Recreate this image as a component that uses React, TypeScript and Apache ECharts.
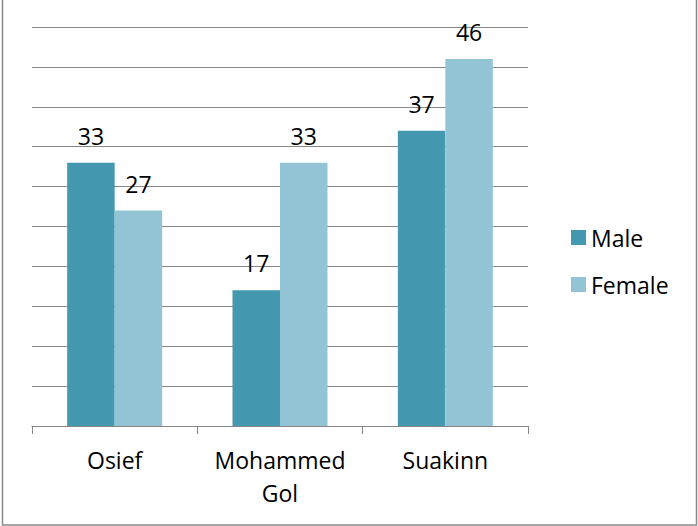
import React, { useEffect, useRef } from "react";
import * as echarts from "echarts";

const categories = ["Osief", "Mohammed Gol", "Suakinn"];
const maleValues = [33, 17, 37];
const femaleValues = [27, 33, 46];
const seriesNames = ["Male", "Female"];

const FONT = "'Open Sans', 'Noto Sans', sans-serif";

export default function App() {
  const ref = useRef<HTMLDivElement>(null);
  useEffect(() => {
    document.body.style.margin = "0";
    const chart = echarts.init(ref.current!, undefined, { renderer: "svg" });
    const labelCfg = {
      show: true,
      position: "top" as const,
      distance: 15.5,
      color: "#000",
      fontSize: 23,
      fontFamily: FONT,
    };
    chart.setOption({
      animation: false,
      backgroundColor: "#fff",
      textStyle: { fontFamily: FONT },
      graphic: [
        {
          type: "rect",
          shape: { x: 2.5, y: -3, width: 694, height: 528 },
          style: { fill: "none", stroke: "#8a8a8a", lineWidth: 1.5 },
          silent: true,
        },
      ],
      grid: { left: 32, right: 170, top: 27, bottom: 100, containLabel: false },
      legend: {
        orient: "vertical",
        left: 566,
        top: 221,
        itemWidth: 15,
        itemHeight: 15,
        itemGap: 24,
        icon: "rect",
        textStyle: { fontSize: 23, color: "#000", fontFamily: FONT, padding: [0, 0, 0, 0] },
        data: seriesNames,
      },
      xAxis: {
        type: "category",
        data: categories,
        axisLine: { show: true, lineStyle: { color: "#868686", width: 1 } },
        axisTick: { show: true, length: 8, lineStyle: { color: "#868686", width: 1 } },
        axisLabel: {
          fontSize: 23,
          color: "#000",
          fontFamily: FONT,
          lineHeight: 33,
          margin: 17,
          interval: 0,
          formatter: (v: string) => v.replace(" ", "\n"),
        },
      },
      yAxis: {
        type: "value",
        min: 0,
        max: 50,
        interval: 5,
        axisLine: { show: false },
        axisTick: { show: false },
        axisLabel: { show: false },
        splitLine: { show: true, lineStyle: { color: "#868686", width: 1 } },
      },
      series: [
        {
          name: seriesNames[0],
          type: "bar",
          data: maleValues,
          barWidth: 47.5,
          barGap: "0%",
          itemStyle: { color: "#4499B0" },
          label: labelCfg,
        },
        {
          name: seriesNames[1],
          type: "bar",
          data: femaleValues,
          barWidth: 47.5,
          barGap: "0%",
          itemStyle: { color: "#93C4D5" },
          label: labelCfg,
        },
      ],
    });
    return () => chart.dispose();
  }, []);
  return (
    <div
      ref={ref}
      style={{ position: "absolute", left: 0, top: 0, width: 698, height: 526 }}
    />
  );
}
